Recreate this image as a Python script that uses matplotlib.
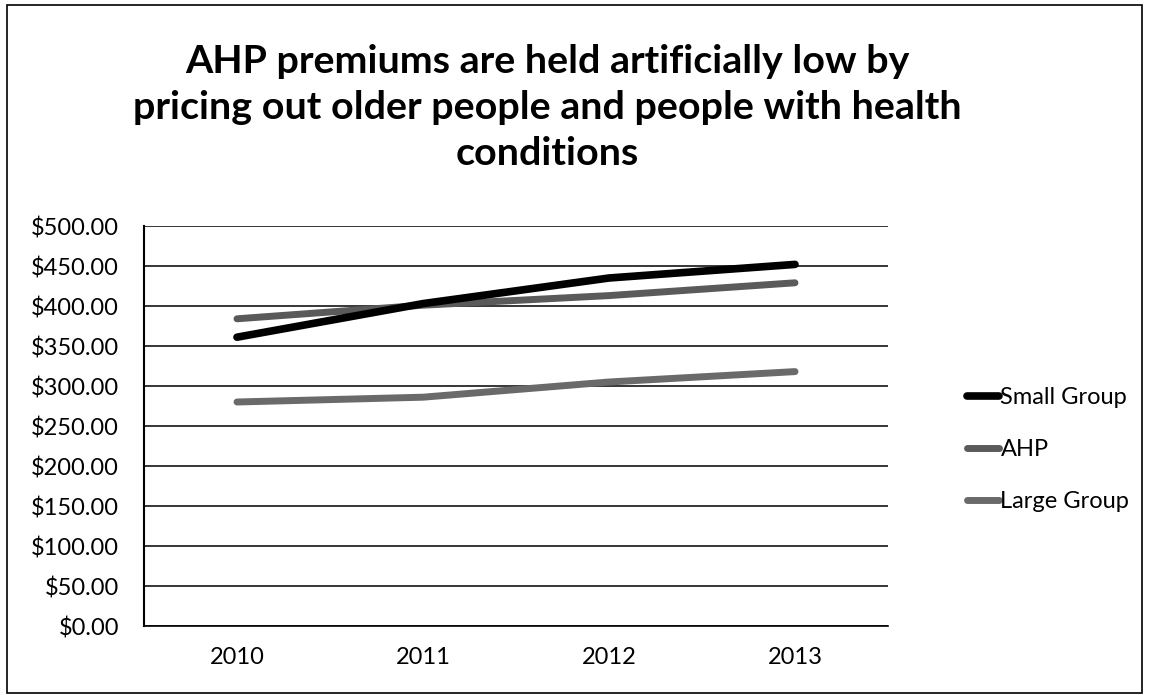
import matplotlib.pyplot as plt
from matplotlib.patches import Rectangle
from matplotlib.ticker import FuncFormatter

years = ['2010', '2011', '2012', '2013']
small_group = [361, 403, 435, 452]
ahp = [384, 401, 413, 429]
large_group = [280, 286, 305, 318]

plt.rcParams['font.family'] = ['Lato', 'DejaVu Sans']

fig = plt.figure(figsize=(11.49, 6.95), dpi=100)
ax = fig.add_axes([144/1149, 1-626/695, (888-144)/1149, 400/695])

x = range(len(years))
ax.plot(x, small_group, color='black', lw=5.5, solid_capstyle='round', label='Small Group', zorder=4)
ax.plot(x, ahp, color='#5a5a5a', lw=5, solid_capstyle='round', label='AHP', zorder=3)
ax.plot(x, large_group, color='#6a6a6a', lw=5, solid_capstyle='round', label='Large Group', zorder=3)

ax.set_xlim(-0.5, 3.5)
ax.set_ylim(0, 500)
ax.set_yticks(range(0, 501, 50))
ax.yaxis.set_major_formatter(FuncFormatter(lambda v, p: f'${v:.2f}'))
ax.set_xticks(list(x))
ax.set_xticklabels(years)
ax.tick_params(axis='both', length=0, labelsize=17, colors='black')
ax.tick_params(axis='y', pad=18)
ax.tick_params(axis='x', pad=15)
ax.grid(axis='y', color='black', lw=1.1)
ax.set_axisbelow(True)
for s in ['top', 'right']:
    ax.spines[s].set_visible(False)
ax.spines['left'].set_linewidth(1.5)
ax.spines['bottom'].set_linewidth(1.2)

leg = fig.legend(loc='upper left', bbox_to_anchor=(958/1149, 1-378/695), frameon=False,
                 fontsize=17, handlelength=1.35, handletextpad=0.05, labelspacing=1.3,
                 borderaxespad=0)

fig.text(547/1149, 1-44/695,
         'AHP premiums are held artificially low by\npricing out older people and people with health\nconditions',
         ha='center', va='top', fontsize=28.4, fontweight='bold', linespacing=1.38)

fig.patches.append(Rectangle((7/1149, 2/695), 1-14/1149, 1-7/695, transform=fig.transFigure,
                             fill=False, edgecolor='black', lw=1.2))

fig.savefig('out.png', dpi=100)
